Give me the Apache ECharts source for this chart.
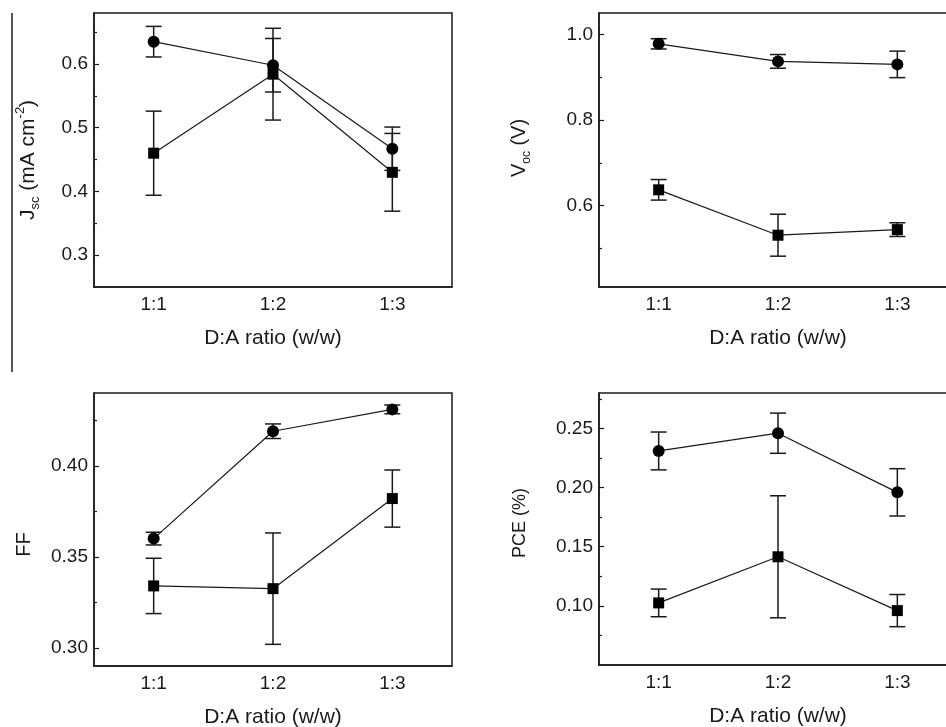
<!DOCTYPE html>
<html>
<head>
<meta charset="utf-8">
<script src="https://cdn.jsdelivr.net/npm/echarts@6.0.0/dist/echarts.min.js"></script>
<style>
  html, body { margin: 0; padding: 0; background: #fff; }
  #chart { width: 946px; height: 727px; }
</style>
</head>
<body>
<div id="chart"></div>
<script>
  // D:A ratio categories
  const categories = ['1:1', '1:2', '1:3']

  // Jsc (mA cm-2)
  const jscCircle = [0.635, 0.598, 0.467]
  const jscCircleErr = [0.024, 0.042, 0.034]
  const jscSquare = [0.460, 0.584, 0.430]
  const jscSquareErr = [0.066, 0.072, 0.061]
  const jscTicks = [0.3, 0.4, 0.5, 0.6]
  const jscMinor = [0.35, 0.45, 0.55, 0.65]

  // Voc (V)
  const vocCircle = [0.978, 0.937, 0.930]
  const vocCircleErr = [0.012, 0.016, 0.031]
  const vocSquare = [0.637, 0.531, 0.544]
  const vocSquareErr = [0.024, 0.049, 0.016]
  const vocTicks = [0.6, 0.8, 1.0]
  const vocMinor = [0.5, 0.7, 0.9]

  // FF
  const ffCircle = [0.360, 0.419, 0.431]
  const ffCircleErr = [0.0035, 0.004, 0.0024]
  const ffSquare = [0.334, 0.3325, 0.382]
  const ffSquareErr = [0.0152, 0.0306, 0.0157]
  const ffTicks = [0.30, 0.35, 0.40]
  const ffMinor = [0.325, 0.375, 0.425]

  // PCE (%)
  const pceCircle = [0.231, 0.246, 0.196]
  const pceCircleErr = [0.016, 0.017, 0.020]
  const pceSquare = [0.1025, 0.1415, 0.096]
  const pceSquareErr = [0.0117, 0.0516, 0.0136]
  const pceTicks = [0.10, 0.15, 0.20, 0.25]
  const pceMinor = [0.075, 0.125, 0.175, 0.225, 0.275]

  const ink = '#1a1a1a'
  const fontFamily = '"Liberation Sans", Arial, sans-serif'

  const panels = [
    { grid: { left: 94, top: 13, width: 358, height: 274 }, min: 0.25, max: 0.68, ticks: jscTicks, minor: jscMinor, digits: 1,
      nameGap: 52, nameSize: 21, namePad: [0, 20, 0, 0],
      name: '{a|J}{b|sc}{a| (mA cm}{c|-2}{a|)}',
      series: [[jscCircle, jscCircleErr, 'circle'], [jscSquare, jscSquareErr, 'rect']] },
    { grid: { left: 599, top: 13, width: 358, height: 274 }, min: 0.41, max: 1.05, ticks: vocTicks, minor: vocMinor, digits: 1,
      nameGap: 66, nameSize: 20, namePad: [0, 0, 0, 4],
      name: '{a|V}{b|oc}{a| (V)}',
      series: [[vocCircle, vocCircleErr, 'circle'], [vocSquare, vocSquareErr, 'rect']] },
    { grid: { left: 94, top: 393, width: 358, height: 273 }, min: 0.29, max: 0.44, ticks: ffTicks, minor: ffMinor, digits: 2,
      nameGap: 56, nameSize: 20, namePad: [0, 30, 0, 0],
      name: '{a|FF}',
      series: [[ffCircle, ffCircleErr, 'circle'], [ffSquare, ffSquareErr, 'rect']] },
    { grid: { left: 599, top: 393, width: 358, height: 272 }, min: 0.05, max: 0.28, ticks: pceTicks, minor: pceMinor, digits: 2,
      nameGap: 66, nameSize: 18, namePad: [0, 0, 0, 12],
      name: '{a|PCE (%)}',
      series: [[pceCircle, pceCircleErr, 'circle'], [pceSquare, pceSquareErr, 'rect']] }
  ]

  function nameRich(size) {
    const small = Math.round(size * 0.62)
    return {
      a: { fontSize: size, fontFamily: fontFamily, color: ink, lineHeight: size + 7 },
      b: { fontSize: small, fontFamily: fontFamily, color: ink, lineHeight: small, verticalAlign: 'bottom' },
      c: { fontSize: small, fontFamily: fontFamily, color: ink, lineHeight: small, verticalAlign: 'top' }
    }
  }

  function errorBars(gi, vals, errs) {
    return {
      type: 'custom',
      xAxisIndex: gi,
      yAxisIndex: gi * 2,
      z: 1,
      silent: true,
      data: vals.map((v, i) => [i, v - errs[i], v + errs[i]]),
      renderItem: function (params, api) {
        const lo = api.coord([api.value(0), api.value(1)])
        const hi = api.coord([api.value(0), api.value(2)])
        const w = 8
        const style = { stroke: ink, lineWidth: 1.5 }
        return {
          type: 'group',
          children: [
            { type: 'line', shape: { x1: lo[0], y1: lo[1], x2: hi[0], y2: hi[1] }, style: style },
            { type: 'line', shape: { x1: lo[0] - w, y1: lo[1], x2: lo[0] + w, y2: lo[1] }, style: style },
            { type: 'line', shape: { x1: hi[0] - w, y1: hi[1], x2: hi[0] + w, y2: hi[1] }, style: style }
          ]
        }
      }
    }
  }

  const grids = []
  const xAxes = []
  const yAxes = []
  const series = []

  panels.forEach((p, gi) => {
    grids.push(Object.assign({ show: true, borderColor: ink, borderWidth: 1.5, backgroundColor: 'transparent',
      containLabel: false, outerBoundsMode: 'none' }, p.grid))
    xAxes.push({
      type: 'category',
      gridIndex: gi,
      data: categories,
      boundaryGap: true,
      name: 'D:A ratio (w/w)',
      nameLocation: 'middle',
      nameGap: 41,
      nameTextStyle: { fontSize: 21, fontFamily: fontFamily, color: ink },
      axisLine: { lineStyle: { color: ink, width: 1.5 } },
      axisTick: { alignWithLabel: true, inside: true, length: 5, lineStyle: { color: ink, width: 1.2 } },
      axisLabel: { fontSize: 19, fontFamily: fontFamily, color: ink, margin: 8 },
      splitLine: { show: false }
    })
    yAxes.push({
      type: 'value',
      gridIndex: gi,
      position: 'left',
      min: p.min,
      max: p.max,
      name: p.name,
      nameLocation: 'middle',
      nameGap: p.nameGap,
      nameTextStyle: { rich: nameRich(p.nameSize), padding: p.namePad },
      axisLine: { show: true, lineStyle: { color: ink, width: 1.5 } },
      axisTick: { show: true, inside: true, length: 5, customValues: p.ticks, lineStyle: { color: ink, width: 1.2 } },
      axisLabel: { fontSize: 19, fontFamily: fontFamily, color: ink, margin: 6, customValues: p.ticks,
        formatter: v => v.toFixed(p.digits) },
      splitLine: { show: false }
    })
    // minor ticks
    yAxes.push({
      type: 'value',
      gridIndex: gi,
      position: 'left',
      offset: 0,
      min: p.min,
      max: p.max,
      axisLine: { show: false },
      axisTick: { show: true, inside: true, length: 3, customValues: p.minor, lineStyle: { color: ink, width: 1.2 } },
      axisLabel: { show: false },
      splitLine: { show: false }
    })
    p.series.forEach(s => {
      series.push(errorBars(gi, s[0], s[1]))
      series.push({
        type: 'line',
        xAxisIndex: gi,
        yAxisIndex: gi * 2,
        data: s[0],
        symbol: s[2],
        symbolSize: s[2] === 'circle' ? 12 : 11,
        showSymbol: true,
        z: 3,
        lineStyle: { color: ink, width: 1.2 },
        itemStyle: { color: '#000' },
        animation: false
      })
    })
  })

  const chart = echarts.init(document.getElementById('chart'), null, { renderer: 'canvas' })
  chart.setOption({
    animation: false,
    backgroundColor: '#fff',
    grid: grids,
    xAxis: xAxes,
    yAxis: yAxes,
    series: series,
    graphic: [
      { type: 'line', shape: { x1: 12, y1: 13, x2: 12, y2: 372 }, style: { stroke: ink, lineWidth: 1.5 } }
    ]
  })
</script>
</body>
</html>
